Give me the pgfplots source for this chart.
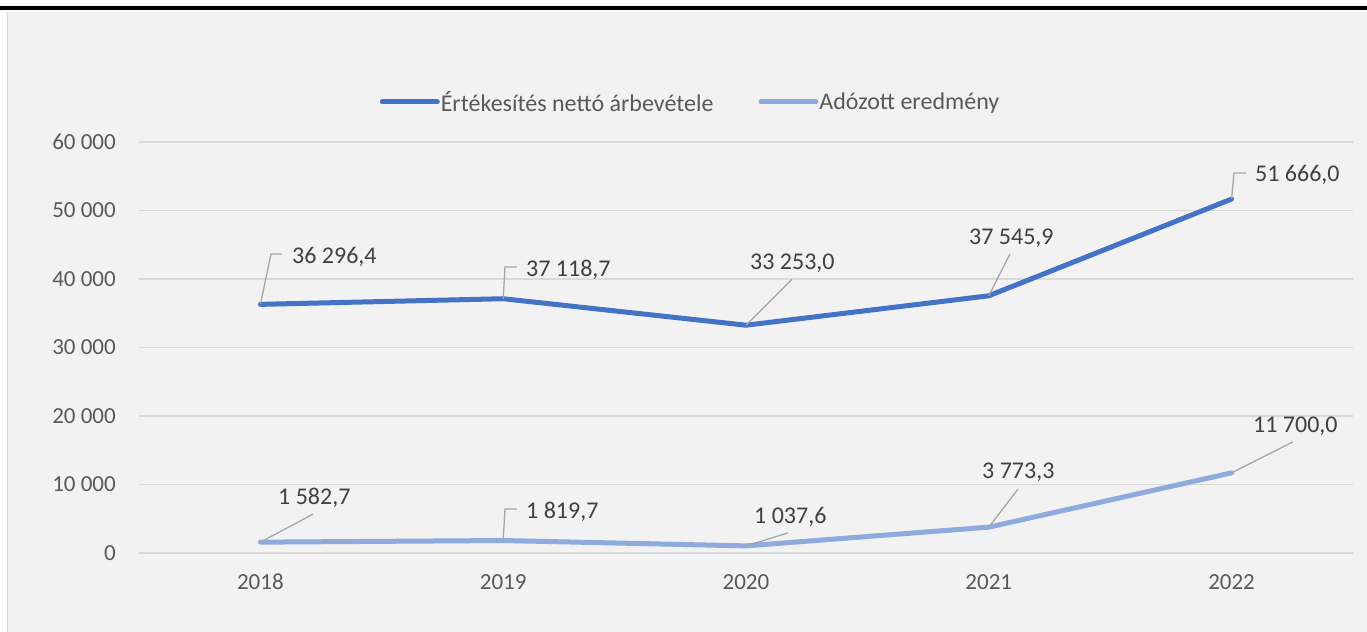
\documentclass[border=0pt]{standalone}
\usepackage{pgfplots}
\pgfplotsset{compat=1.18}
\usepackage{fontspec}
\setmainfont{Carlito}
\definecolor{bgc}{HTML}{F2F2F2}
\definecolor{gridc}{HTML}{D9D9D9}
\definecolor{tickc}{HTML}{595959}
\definecolor{labc}{HTML}{404040}
\definecolor{blueA}{HTML}{4472C4}
\definecolor{blueB}{HTML}{8FAADC}
\definecolor{leadc}{HTML}{A6A6A6}
\begin{document}
\begin{tikzpicture}[x=1bp,y=1bp]
\useasboundingbox (0,0) rectangle (1367,632);
\fill[white] (0,0) rectangle (1367,632);
\fill[bgc] (7,0) rectangle (1367,620);
\draw[gridc, line width=1.5bp] (7.5,0) -- (7.5,620);
\fill[black] (0,622) rectangle (1367,625.5);
\node[anchor=base, text=black, inner sep=0, font=\fontsize{23bp}{28bp}\selectfont] at (850,635) {(\hspace{57bp})};
\begin{axis}[
  at={(139bp,79bp)}, anchor=south west,
  scale only axis, width=1214bp, height=411bp,
  xmin=-0.5, xmax=4.5, ymin=0, ymax=60000,
  axis line style={draw=none},
  major tick length=0pt,
  scaled y ticks=false,
  xtick={0,1,2,3,4},
  xticklabels={2018,2019,2020,2021,2022},
  ytick={0,10000,20000,30000,40000,50000,60000},
  yticklabels={0,10 000,20 000,30 000,40 000,50 000,60 000},
  ymajorgrids,
  grid style={gridc, line width=1.5bp},
  ticklabel style={text=tickc, inner sep=0pt, font=\fontsize{23bp}{28bp}\selectfont},
  xticklabel style={anchor=base, yshift=-37bp},
  yticklabel style={anchor=east, xshift=-23bp},
  legend columns=2,
  legend style={at={(0.4539,1.0973)}, anchor=center, draw=none, fill=none,
    font=\fontsize{24bp}{28bp}\selectfont, text=tickc,
    nodes={inner sep=1bp},
    /tikz/every even column/.append style={column sep=44bp}},
  legend image code/.code={\draw[#1, line cap=round] (0bp,0bp) -- (55bp,0bp);},
  clip=false,
]
\addplot[blueA, line width=5bp, line join=round, line cap=round] coordinates {(0,36296.4) (1,37118.7) (2,33253.0) (3,37545.9) (4,51666.0)};
\addlegendentry{Értékesítés nettó árbevétele}
\addplot[blueB, line width=5bp, line join=round, line cap=round] coordinates {(0,1582.7) (1,1819.7) (2,1037.6) (3,3773.3) (4,11700.0)};
\addlegendentry{Adózott eredmény}

% leaders
\draw[leadc, line width=1.3bp] (axis cs:0,36296.4) -- ++(10.6bp,50.4bp) -- ++(11bp,0bp);
\draw[leadc, line width=1.3bp] (axis cs:1,37118.7) -- ++(1.8bp,31.7bp) -- ++(12bp,0bp);
\draw[leadc, line width=1.3bp] (axis cs:2,33253.0) -- ++(46bp,46bp);
\draw[leadc, line width=1.3bp] (axis cs:3,37545.9) -- ++(21.2bp,41.8bp);
\draw[leadc, line width=1.3bp] (axis cs:4,51666.0) -- ++(2.4bp,26bp) -- ++(12bp,0bp);
\draw[leadc, line width=1.3bp] (axis cs:0,1582.7) -- ++(52.6bp,28bp);
\draw[leadc, line width=1.3bp] (axis cs:1,1819.7) -- ++(1.8bp,31.5bp) -- ++(12bp,0bp);
\draw[leadc, line width=1.3bp] (axis cs:2,1037.6) -- ++(42bp,13bp);
\draw[leadc, line width=1.3bp] (axis cs:3,3773.3) -- ++(29.2bp,38bp);
\draw[leadc, line width=1.3bp] (axis cs:4,11700.0) -- ++(61.4bp,31bp);

% labels
\tikzset{dl/.style={anchor=base west, inner sep=0pt, text=labc, font=\fontsize{24bp}{28bp}\selectfont}}
\node[dl] at ([shift={(31.6bp,40.9bp)}]axis cs:0,36296.4) {36 296,4};
\node[dl] at ([shift={(22.8bp,22.2bp)}]axis cs:1,37118.7) {37 118,7};
\node[dl] at ([shift={(4bp,55.5bp)}]axis cs:2,33253.0) {33 253,0};
\node[dl] at ([shift={(-19.8bp,51.3bp)}]axis cs:3,37545.9) {37 545,9};
\node[dl] at ([shift={(23.4bp,17.5bp)}]axis cs:4,51666.0) {51 666,0};
\node[dl] at ([shift={(17.6bp,37.5bp)}]axis cs:0,1582.7) {1 582,7};
\node[dl] at ([shift={(22.8bp,22bp)}]axis cs:1,1819.7) {1 819,7};
\node[dl] at ([shift={(8bp,22.5bp)}]axis cs:2,1037.6) {1 037,6};
\node[dl] at ([shift={(-6.8bp,48.5bp)}]axis cs:3,3773.3) {3 773,3};
\node[dl] at ([shift={(21.4bp,40.5bp)}]axis cs:4,11700.0) {11 700,0};
\end{axis}
\end{tikzpicture}
\end{document}
